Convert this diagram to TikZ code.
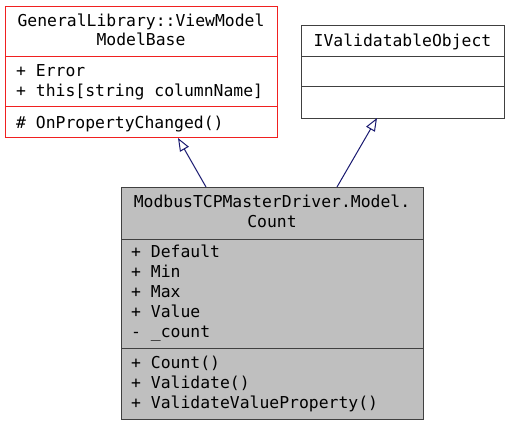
\documentclass[tikz,border=0pt]{standalone}
\usepackage{fontspec}
\newfontfamily\umlmono{DejaVu Sans Mono}
\usetikzlibrary{arrows.meta}
\definecolor{inhblue}{HTML}{191970}
\definecolor{boxred}{HTML}{F02020}
\definecolor{boxgray}{HTML}{404040}
\definecolor{fillgray}{HTML}{BFBFBF}
\tikzset{
  umltxt/.style={inner sep=0pt, anchor=base west, font=\umlmono\fontsize{16.4}{20}\selectfont},
  umlttl/.style={inner sep=0pt, anchor=base, font=\umlmono\fontsize{16.4}{20}\selectfont},
  umlbox/.style={draw, line width=1pt, anchor=north west, inner sep=0pt},
  inh/.style={draw=inhblue, line width=1pt, -{Triangle[open, length=13pt, width=10pt, fill=white]}},
}
\begin{document}
\begin{tikzpicture}[x=1pt, y=-1pt]
\useasboundingbox (0,0) rectangle (509,427);
% Box 1: GeneralLibrary::ViewModel ModelBase
\node[umlbox, draw=boxred, fill=white, minimum width=272pt, minimum height=131pt] (b1) at (5,6) {};
\draw[boxred, line width=1pt] (5,57) -- (277,57);
\draw[boxred, line width=1pt] (5,107) -- (277,107);
\node[umlttl] (b1t1) at (141,27) {GeneralLibrary::ViewModel};
\node[umlttl] (b1t2) at (141,46) {ModelBase};
\node[umltxt] (b1a1) at (16,77) {+ Error};
\node[umltxt] (b1a2) at (16,97) {+ this[string columnName]};
\node[umltxt] (b1m1) at (16,129) {\# OnPropertyChanged()};
% Box 2: IValidatableObject
\node[umlbox, draw=boxgray, fill=white, minimum width=203pt, minimum height=93pt] (b2) at (301,25) {};
\draw[boxgray, line width=1pt] (301,57) -- (504,57);
\draw[boxgray, line width=1pt] (301,87) -- (504,87);
\node[umlttl] (b2t) at (402.5,47) {IValidatableObject};
% Box 3: ModbusTCPMasterDriver.Model.Count
\node[umlbox, draw=boxgray, fill=fillgray, minimum width=302pt, minimum height=232pt] (b3) at (121,187) {};
\draw[boxgray, line width=1pt] (121,240) -- (423,240);
\draw[boxgray, line width=1pt] (121,349) -- (423,349);
\node[umlttl] (b3t1) at (272,208) {ModbusTCPMasterDriver.Model.};
\node[umlttl] (b3t2) at (272,228) {Count};
\node[umltxt] (b3a1) at (131,258) {+ Default};
\node[umltxt] (b3a2) at (131,278) {+ Min};
\node[umltxt] (b3a3) at (131,298) {+ Max};
\node[umltxt] (b3a4) at (131,318) {+ Value};
\node[umltxt] (b3a5) at (131,338) {- \_count};
\node[umltxt] (b3m1) at (131,369) {+ Count()};
\node[umltxt] (b3m2) at (131,389) {+ Validate()};
\node[umltxt] (b3m3) at (131,409) {+ ValidateValueProperty()};
% Inheritance connectors
\coordinate (s1) at (206,187);
\coordinate (e1) at (178,138);
\coordinate (s2) at (337,187);
\coordinate (e2) at (377,118);
\draw[inh] (s1) -- (e1);
\draw[inh] (s2) -- (e2);
\end{tikzpicture}
\end{document}
